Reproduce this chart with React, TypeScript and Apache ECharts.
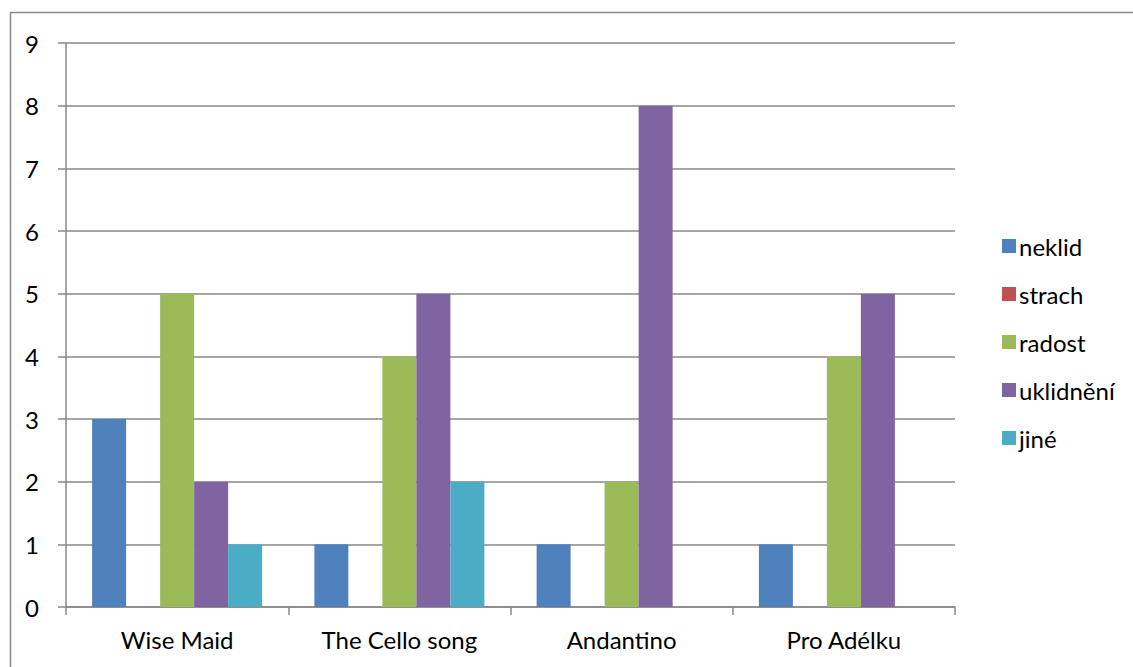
import React, { useEffect, useRef } from "react";
import * as echarts from "echarts";

const categories = ["Wise Maid", "The Cello song", "Andantino", "Pro Adélku"];
const seriesNames = ["neklid", "strach", "radost", "uklidnění", "jiné"];
const neklid = [3, 1, 1, 1];
const strach = [0, 0, 0, 0];
const radost = [5, 4, 2, 4];
const uklidneni = [2, 5, 8, 5];
const jine = [1, 2, 0, 0];
const yTicks = { min: 0, max: 9, interval: 1 };

const colors = ["#4F81BD", "#C0504D", "#9BBB59", "#8064A2", "#4BACC6"];
const values = [neklid, strach, radost, uklidneni, jine];
const FONT = "Lato, 'Open Sans', sans-serif";
const FS = 24;

export default function App() {
  const ref = useRef<HTMLDivElement>(null);

  useEffect(() => {
    document.body.style.margin = "0";
    const chart = echarts.init(ref.current!, undefined, { renderer: "svg" });
    chart.setOption({
      animation: false,
      backgroundColor: "#fff",
      textStyle: { fontFamily: FONT, color: "#000" },
      graphic: [
        {
          type: "rect",
          shape: { x: 10.5, y: 12.5, width: 1200, height: 800 },
          style: { fill: "none", stroke: "#8a8a8a", lineWidth: 1.5 },
          silent: true,
        },
      ],
      grid: { left: 66, right: 178, top: 43, bottom: 60 },
      legend: {
        orient: "vertical",
        left: 997,
        top: 229,
        itemWidth: 14,
        itemHeight: 14,
        itemGap: 24,
        icon: "rect",
        textStyle: { fontFamily: FONT, fontSize: FS, color: "#000", padding: [0, 0, 0, -2] },
        data: seriesNames,
      },
      xAxis: {
        type: "category",
        data: categories,
        axisLine: { lineStyle: { color: "#888", width: 1.5 } },
        axisTick: { show: true, length: 8, lineStyle: { color: "#888", width: 1.5 } },
        axisLabel: { fontFamily: FONT, fontSize: FS, color: "#000", margin: 20 },
      },
      yAxis: {
        type: "value",
        min: yTicks.min,
        max: yTicks.max,
        interval: yTicks.interval,
        axisLine: { show: true, lineStyle: { color: "#888", width: 1.5 } },
        axisTick: { show: true, length: 8, lineStyle: { color: "#888", width: 1.5 } },
        splitLine: { lineStyle: { color: "#888", width: 1.5 } },
        axisLabel: { fontFamily: FONT, fontSize: FS, color: "#000", margin: 27 },
      },
      series: seriesNames.map((name, i) => ({
        name,
        type: "bar",
        data: values[i],
        barGap: "0%",
        barCategoryGap: "23.5%",
        itemStyle: { color: colors[i] },
      })),
    });
    return () => chart.dispose();
  }, []);

  return <div ref={ref} style={{ width: 1133, height: 667 }} />;
}
